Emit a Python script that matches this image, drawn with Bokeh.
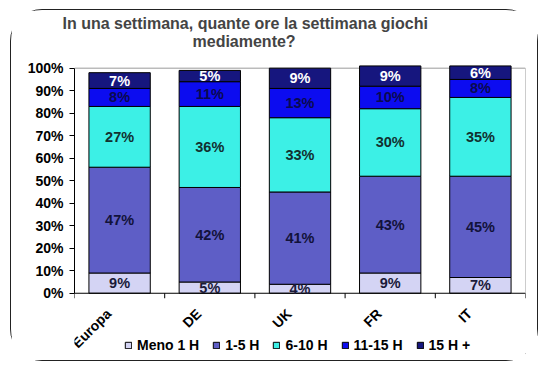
from bokeh.plotting import figure
from bokeh.models import (Range1d, FixedTicker, PrintfTickFormatter, Title,
                          ColumnDataSource)
from bokeh.core.properties import value
from bokeh.embed import file_html
from bokeh.resources import INLINE
import numpy as np

categories = ["Europa", "DE", "UK", "FR", "IT"]
series_names = ["Meno 1 H", "1-5 H", "6-10 H", "11-15 H", "15 H +"]
meno_1h = [9, 5, 4, 9, 7]
h_1_5 = [47, 42, 41, 43, 45]
h_6_10 = [27, 36, 33, 30, 35]
h_11_15 = [8, 11, 13, 10, 8]
h_15_plus = [7, 5, 9, 9, 6]
y_ticks = [0, 10, 20, 30, 40, 50, 60, 70, 80, 90, 100]

series = [meno_1h, h_1_5, h_6_10, h_11_15, h_15_plus]
colors = ["#d4d4f4", "#5e5ec6", "#3cf0e6", "#0c0cf0", "#16167e"]
label_colors = ["#1a1a3a", "#12123a", "#123030", "#0a0a50", "#ffffff"]
FONT = "Liberation Sans"

n = len(categories)
xs = np.arange(n) + 0.5

# frame covers the category labels and legend area; 0% line sits inside it
p = figure(width=528, height=352, output_backend="svg", toolbar_location=None,
           x_range=Range1d(0, n), y_range=Range1d(-30.76, 106.52),
           x_axis_location=None,
           min_border_left=63, min_border_right=14, min_border_top=43,
           min_border_bottom=0, title=None)
p.styles = {"border": "1px solid #222222", "border-radius": "32px",
            "margin": "9px 0px 0px 10px"}
p.outline_line_color = None
p.grid.visible = False

# titles (line nearest the plot first)
p.add_layout(Title(text="mediamente?", align="left", offset=118, vertical_align="top",
                   text_font=FONT, text_font_size="16px", text_font_style="bold",
                   standoff=3), "above")
p.add_layout(Title(text="In una settimana, quante ore la settimana giochi", align="left",
                   offset=-12, text_font=FONT, text_font_size="16px",
                   text_font_style="bold", standoff=0), "above")

# plot area borders (top / right)
p.segment(x0=[0], y0=[y_ticks[-1]], x1=[n], y1=[y_ticks[-1]], line_color="#9a9a9a", line_width=1)
p.segment(x0=[n], y0=[0], x1=[n], y1=[y_ticks[-1]], line_color="#9a9a9a", line_width=1)

data = {"x": xs}
for name, vals in zip(series_names, series):
    data[name] = vals
src = ColumnDataSource(data)
p.vbar_stack(series_names, x="x", width=0.68, source=src, color=colors,
             line_color="#000000", line_width=1, legend_label=series_names)

# category axis line, tick marks between the bars, category labels
p.segment(x0=[0], y0=[0], x1=[n], y1=[0], line_color="#000000", line_width=1)
p.ray(x=list(range(n + 1)), y=[0] * (n + 1), length=5, length_units="screen",
      angle=-np.pi / 2, line_color="#000000", line_width=1)
p.text(x=xs, y=[0] * n, text=categories, angle=np.pi / 4, text_align="right",
       text_baseline="middle", x_offset=-11, y_offset=18, text_font=value(FONT),
       text_font_size="14px", text_font_style="bold", text_color="#000000")

# segment labels
cum = np.zeros(n)
for vals, lc in zip(series, label_colors):
    v = np.array(vals, dtype=float)
    mid = cum + v / 2
    cum = cum + v
    p.text(x=xs, y=mid, text=[f"{int(t)}%" for t in vals], text_align="center",
           text_baseline="middle", text_font=value(FONT), text_font_size="14.5px",
           text_font_style="bold", text_color=lc)

# y axis
yax = p.yaxis[0]
yax.ticker = FixedTicker(ticks=y_ticks)
yax.formatter = PrintfTickFormatter(format="%d%%")
yax.bounds = (0, 100)
yax.axis_line_color = "#000000"
yax.major_tick_in = 0
yax.major_tick_out = 5
yax.minor_tick_line_color = None
yax.major_label_text_font = FONT
yax.major_label_text_font_size = "14px"
yax.major_label_text_font_style = "bold"
yax.major_label_text_color = "#000000"
yax.major_label_standoff = 6

# legend (inside the extended frame, under the plot)
lg = p.legend[0]
lg.orientation = "horizontal"
lg.location = (50, 9)
lg.padding = 0
lg.margin = 0
lg.spacing = 13
lg.glyph_width = 8
lg.glyph_height = 8
lg.label_height = 16
lg.label_standoff = 5
lg.border_line_color = None
lg.background_fill_alpha = 0
lg.label_text_font = FONT
lg.label_text_font_size = "14px"
lg.label_text_font_style = "bold"
lg.label_text_color = "#000000"

open("out.html", "w").write(file_html(p, INLINE))
